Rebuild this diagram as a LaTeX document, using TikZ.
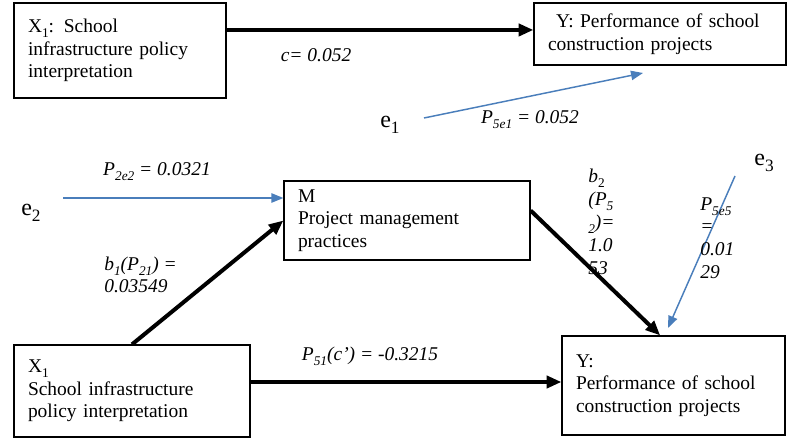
\documentclass[tikz,border=0pt]{standalone}
\usepackage{fontspec}
\setmainfont{Liberation Serif}
\usepackage{tikz}
\usetikzlibrary{arrows.meta}
\definecolor{errblue}{RGB}{74,126,187}
\newcommand{\lowsub}[2][10pt]{\raisebox{-0.55ex}{\fontsize{#1}{#1}\selectfont #2}}

\begin{document}
\begin{tikzpicture}[x=0.75pt,y=0.75pt,yscale=-1,xscale=1,
  varbox/.style={draw, line width=0.9pt, inner sep=0pt, align=left, font=\fontsize{14.6}{17}\selectfont},
  patharrow/.style={line width=3pt, -{Triangle[length=11pt,width=9pt]}},
  errarrow/.style={color=errblue, line width=1.1pt, -{Triangle[length=9pt,width=7pt]}},
  coef/.style={inner sep=0.75pt, font=\fontsize{14.6}{17}\selectfont\itshape, align=left},
  errlabel/.style={inner sep=0.75pt, font=\fontsize{18}{20}\selectfont}]
\useasboundingbox (0,0) rectangle (798,448);

%Boxes
\node (x1top) at (120,50.5) [varbox, minimum width=159pt, minimum height=71.25pt, text width=138pt] {X\lowsub{1}: School\\infrastructure policy\\interpretation};
\node (ytop) at (660,34) [varbox, minimum width=189pt, minimum height=46.5pt, text width=168pt] {\hspace{6pt}Y: Performance of school\\construction projects};
\node (mbox) at (407,220.5) [varbox, minimum width=184.5pt, minimum height=59.25pt, text width=163.5pt] {M\\Project management\\practices};
\node (x1bot) at (132,391) [varbox, minimum width=177pt, minimum height=69pt, text width=156pt] {X\lowsub{1}\\School infrastructure\\policy interpretation};
\node (ybot) at (673.5,385.5) [varbox, minimum width=167.25pt, minimum height=74.25pt, text width=146.25pt] {Y:\\Performance of school\\construction projects};

%Error terms
\node (e1) at (390,125) [errlabel] {e\lowsub[13pt]{1}};
\node (e2) at (31,213) [errlabel] {e\lowsub[13pt]{2}};
\node (e3) at (764,163) [errlabel] {e\lowsub[13pt]{3}};
\coordinate (e1start) at (424,118);
\coordinate (e1end) at (643,73);
\coordinate (e2start) at (63,198);
\coordinate (e3start) at (735,176);
\coordinate (e3end) at (668,328);

%Straight Lines
\draw [patharrow] ([yshift=-15.4pt]x1top.east) -- ([yshift=-15.4pt]x1top.east -| ytop.west);
\draw [patharrow] (x1bot.north) -- (mbox.west);
\draw [patharrow] ([yshift=-7.5pt]mbox.east) -- ([xshift=-10pt]ybot.north);
\draw [patharrow] ([yshift=-6.75pt]x1bot.east) -- ([yshift=-6.75pt]x1bot.east -| ybot.west);
\draw [errarrow] (e1start) -- (e1end);
\draw [errarrow] (e2start) -- (e2start -| mbox.west);
\draw [errarrow] (e3start) -- (e3end);

% Text Node
\node (clab) at (316,55) [coef] {c= 0.052};
% Text Node
\node (p5e1) at (530,120) [coef] {P\lowsub{5e1} = 0.052};
% Text Node
\node (p2e2) at (157,172) [coef] {P\lowsub{2e2} = 0.0321};
% Text Node
\node (b1lab) at (103,275) [coef, anchor=west] {b\lowsub{1}(P\lowsub{21}) =\\0.03549};
% Text Node
\node (p51) at (370,356) [coef] {P\lowsub{51}(c’) = -0.3215};
% Text Node
\node (b2lab) at (587,222) [coef, anchor=west, font=\fontsize{14.6}{17.3}\selectfont\itshape] {b\lowsub{\upshape 2}\\(P\lowsub{5}\\\lowsub{2})=\\1.0\\53};
% Text Node
\node (p5e5) at (699,238) [coef, anchor=west, font=\fontsize{14.6}{17}\selectfont\itshape] {P\lowsub{5e5}\\=\\0.01\\29};

\end{tikzpicture}
\end{document}
